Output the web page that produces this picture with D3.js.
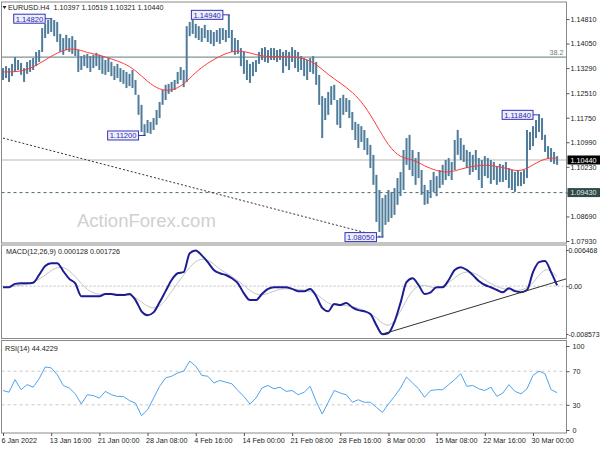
<!DOCTYPE html>
<html><head><meta charset="utf-8">
<script src="https://cdn.jsdelivr.net/npm/d3@7"></script>
<style>body{margin:0;background:#fff}text{font-family:"Liberation Sans",Arial,sans-serif}</style>
</head><body><svg id="c" width="600" height="450"></svg>
<script>
// ---------- DATA ----------
const symbolTitle = "EURUSD.H4  1.10397 1.10519 1.10321 1.10440";
const barStep = 2; // each drawn bar = 2 H4 periods
const priceHigh = [1.1329,1.1335,1.1329,1.1342,1.1363,1.1354,1.1345,1.1329,1.1348,1.1354,
1.1360,1.1379,1.1385,1.1453,1.1466,1.1478,1.1482,1.1478,1.1472,1.1435,
1.1422,1.1432,1.1422,1.1428,1.1416,1.1385,1.1366,1.1370,1.1373,1.1366,
1.1370,1.1376,1.1370,1.1366,1.1354,1.1360,1.1348,1.1335,1.1342,1.1329,
1.1323,1.1317,1.1311,1.1323,1.1292,1.1246,1.1215,1.1155,1.1168,1.1162,
1.1174,1.1199,1.1224,1.1261,1.1277,1.1280,1.1286,1.1292,1.1317,1.1332,
1.1323,1.1459,1.1472,1.1478,1.1466,1.1459,1.1453,1.1463,1.1447,1.1447,
1.1441,1.1447,1.1453,1.1453,1.1447,1.1494,1.1447,1.1422,1.1416,1.1391,
1.1379,1.1354,1.1342,1.1348,1.1354,1.1379,1.1391,1.1394,1.1385,1.1391,
1.1391,1.1385,1.1388,1.1379,1.1385,1.1379,1.1394,1.1385,1.1379,1.1366,
1.1360,1.1354,1.1360,1.1366,1.1348,1.1308,1.1242,1.1236,1.1255,1.1273,
1.1277,1.1230,1.1236,1.1246,1.1236,1.1230,1.1193,1.1162,1.1156,1.1149,
1.1137,1.1112,1.1091,1.1060,1.0998,1.0951,1.0926,1.0936,1.0951,1.0945,
1.0957,1.0988,1.1007,1.1075,1.1112,1.1122,1.1075,1.1050,1.1069,1.1013,
1.0967,1.0951,1.0982,1.1007,1.0994,1.1013,1.1029,1.1044,1.1050,1.1038,
1.1106,1.1137,1.1112,1.1091,1.1075,1.1069,1.1060,1.1075,1.1050,1.1044,
1.1056,1.1050,1.1044,1.1038,1.1025,1.1032,1.1029,1.1038,1.1019,1.1013,
1.1007,1.1013,1.1007,1.1013,1.1137,1.1131,1.1149,1.1168,1.1184,1.1174,
1.1122,1.1087,1.1081,1.1069,1.1056];
const priceLow = [1.1292,1.1298,1.1286,1.1304,1.1317,1.1323,1.1308,1.1286,1.1311,1.1317,
1.1323,1.1335,1.1348,1.1379,1.1422,1.1435,1.1441,1.1428,1.1410,1.1379,
1.1370,1.1385,1.1379,1.1373,1.1366,1.1317,1.1323,1.1335,1.1329,1.1317,
1.1329,1.1335,1.1323,1.1311,1.1308,1.1317,1.1304,1.1292,1.1298,1.1286,
1.1280,1.1267,1.1273,1.1267,1.1246,1.1184,1.1131,1.1120,1.1128,1.1125,
1.1137,1.1153,1.1174,1.1215,1.1230,1.1249,1.1255,1.1261,1.1280,1.1292,
1.1270,1.1286,1.1428,1.1435,1.1422,1.1416,1.1410,1.1422,1.1410,1.1404,
1.1397,1.1410,1.1404,1.1416,1.1410,1.1422,1.1379,1.1370,1.1373,1.1335,
1.1311,1.1292,1.1283,1.1304,1.1317,1.1342,1.1354,1.1348,1.1345,1.1354,
1.1354,1.1348,1.1354,1.1314,1.1335,1.1323,1.1348,1.1329,1.1317,1.1323,
1.1304,1.1292,1.1317,1.1311,1.1277,1.1215,1.1112,1.1168,1.1184,1.1215,
1.1230,1.1153,1.1143,1.1184,1.1193,1.1174,1.1137,1.1106,1.1081,1.1100,
1.1075,1.1060,1.1019,1.0967,1.0852,1.0821,1.0805,1.0843,1.0852,1.0864,
1.0874,1.0905,1.0932,1.0951,1.1029,1.1013,1.0994,1.0967,1.0988,1.0936,
1.0905,1.0908,1.0926,1.0945,1.0932,1.0957,1.0967,1.0982,1.0994,1.0982,
1.1013,1.1060,1.1044,1.1038,1.1019,1.0998,1.1007,1.1013,1.0982,1.0957,
1.0994,1.0988,1.0970,1.0982,1.0967,1.0976,1.0976,1.0982,1.0957,1.0951,
1.0945,1.0963,1.0963,1.0970,1.0988,1.1075,1.1087,1.1112,1.1131,1.1106,
1.1069,1.1050,1.1038,1.1032,1.1029];
const maStep = 8;
const maValues = [1.1317,1.1317,1.1323,1.1342,1.1366,1.1385,1.1391,1.1376,1.1370,1.1357,
1.1345,1.1323,1.1286,1.1261,1.1258,1.1277,1.1317,1.1345,1.1366,1.1382,
1.1382,1.1370,1.1363,1.1366,1.1363,1.1360,1.1342,1.1308,1.1283,1.1255,
1.1215,1.1153,1.1087,1.1050,1.1047,1.1025,1.1010,1.1004,1.1016,1.1025,
1.1029,1.1025,1.1016,1.1007,1.1029,1.1050,1.1050];
const macdStep = 4;
const macdMain = [-0.0002,-0.0002,0.0004,0.0005,0.0005,0.0006,0.0020,0.0036,0.0041,0.0041,
0.0027,0.0013,0.0005,-0.0018,-0.0018,-0.0018,-0.0018,-0.0014,-0.0014,-0.0016,
-0.0016,-0.0014,-0.0025,-0.0045,-0.0052,-0.0047,-0.0029,-0.0009,0.0011,0.0023,
0.0025,0.0059,0.0064,0.0055,0.0043,0.0029,0.0023,0.0020,0.0014,0.0005,
-0.0013,-0.0025,-0.0025,-0.0014,-0.0005,-0.0002,-0.0002,-0.0002,-0.0005,-0.0009,
-0.0009,-0.0005,-0.0018,-0.0039,-0.0045,-0.0032,-0.0034,-0.0030,-0.0038,-0.0043,
-0.0045,-0.0050,-0.0070,-0.0086,-0.0084,-0.0064,-0.0030,0.0007,0.0014,0.0002,
-0.0014,-0.0011,-0.0002,-0.0002,0.0011,0.0029,0.0034,0.0029,0.0020,0.0009,
0.0002,-0.0002,-0.0007,-0.0011,-0.0004,-0.0009,-0.0011,-0.0007,0.0025,0.0043,
0.0045,0.0025,0.000128];
const signalStep = 8;
const macdSignal = [-0.0002,0.0000,0.0003,0.0011,0.0029,0.0038,0.0018,-0.0009,-0.0016,-0.0014,
-0.0014,-0.0018,-0.0039,-0.0041,-0.0009,0.0020,0.0048,0.0050,0.0029,0.0018,
0.0002,-0.0018,-0.0014,-0.0004,-0.0005,-0.0007,-0.0011,-0.0034,-0.0034,-0.0036,
-0.0043,-0.0055,-0.0079,-0.0047,-0.0002,0.0004,-0.0007,0.0005,0.0025,0.0027,
0.0011,-0.0002,-0.0007,-0.0009,0.0002,0.0038,0.001726];
const rsiStep = 4;
const rsiValues = [47,45,60,48,54,51,61,75,74,66,53,50,43,31,42,41,38,46,42,40,
40,35,32,17,24,38,52,62,64,68,70,82,76,65,64,56,59,57,55,47,
40,31,38,50,53,49,51,46,47,42,45,52,34,19,33,47,44,42,33,36,
33,33,27,21,31,40,50,63,56,49,39,47,48,48,54,60,67,52,53,49,
47,51,40,44,54,46,43,49,65,70,67,48,44.42];
const timeLabels = ["6 Jan 2022","13 Jan 16:00","21 Jan 00:00","28 Jan 08:00","4 Feb 16:00","14 Feb 00:00","21 Feb 08:00","28 Feb 16:00","8 Mar 00:00","15 Mar 08:00","22 Mar 16:00","30 Mar 00:00"];
const timeLabelStep = 32;
const priceTicks = [1.14810,1.14050,1.13290,1.12510,1.11750,1.10990,1.10230,1.09430,1.08690,1.07930];
const macdTicks = [0.006468,0,-0.008573];
const macdTickLabels = ["0.006468","0.00","-0.008573"];
const rsiTicks = [100,70,30,0];
const fibLevel = 1.1363, fibText = "38.2";
const bidPrice = 1.10440;
const supportPrice = 1.09430;
const swingLabels = [
  {idx:32, price:1.14820}, {idx:94, price:1.11200}, {idx:150, price:1.14940},
  {idx:252, price:1.08050}, {idx:356, price:1.11840}];
const priceTrend = [{idx:0, v:1.1112},{idx:252, v:1.0805}];
const macdTrend = [{idx:252, v:-0.0086},{idx:374, v:0.0013}];
const macdTitle = "MACD(12,26,9) 0.000128 0.001726";
const rsiTitle = "RSI(14) 44.4229";

// ---------- LAYOUT ----------
const svg = d3.select("#c");
svg.append("rect").attr("width",600).attr("height",450).attr("fill","#fff");
const L = 1.5, R = 566.5;
const P = {main:[2,243], macd:[245,338.5], rsi:[340.5,433]};
const x = d3.scaleLinear().domain([0,352]).range([3,533]);
const yP = d3.scaleLinear().domain([1.0796,1.1540]).range([240,0]);
const yM = d3.scaleLinear().domain([-0.008573,0.006468]).range([334,250]);
const yR = d3.scaleLinear().domain([0,100]).range([430,346]);
const FS = 7.2, TXT = "#222";

const defs = svg.append("defs");
Object.entries(P).forEach(([k,[t,b]])=>{
  defs.append("clipPath").attr("id","clip-"+k).append("rect")
    .attr("x",L).attr("y",t).attr("width",R-L).attr("height",b-t);
});

// ---------- MAIN PANEL ----------
const gm = svg.append("g").attr("clip-path","url(#clip-main)");
gm.append("text").attr("x",77).attr("y",227).attr("font-size",18.5)
  .attr("fill","#d0d0d0").text("ActionForex.com");
gm.append("line").attr("x1",L).attr("x2",R).attr("y1",yP(fibLevel)).attr("y2",yP(fibLevel))
  .attr("stroke","#5f7a7a").attr("stroke-width",1);
gm.append("text").attr("x",R-3).attr("y",yP(fibLevel)-2).attr("text-anchor","end")
  .attr("font-size",FS).attr("fill","#6a7a80").text(fibText);
gm.append("line").attr("x1",L).attr("x2",R).attr("y1",yP(bidPrice)).attr("y2",yP(bidPrice))
  .attr("stroke","#cfcfcf").attr("stroke-width",1.5);
gm.append("line").attr("x1",L).attr("x2",R).attr("y1",yP(supportPrice)).attr("y2",yP(supportPrice))
  .attr("stroke","#4f6b6b").attr("stroke-width",1).attr("stroke-dasharray","3,3");
gm.append("line").attr("x1",x(priceTrend[0].idx)).attr("y1",yP(priceTrend[0].v))
  .attr("x2",x(priceTrend[1].idx)).attr("y2",yP(priceTrend[1].v))
  .attr("stroke","#333").attr("stroke-width",1).attr("stroke-dasharray","2,2");
gm.append("g").selectAll("rect").data(priceHigh).join("rect")
  .attr("x",(d,i)=>x(i*barStep)-1).attr("width",2)
  .attr("y",d=>yP(d)).attr("height",(d,i)=>Math.max(1,yP(priceLow[i])-yP(d)))
  .attr("fill","#4e7c9a");
gm.append("path").datum(maValues)
  .attr("d",d3.line().x((d,i)=>x(i*maStep)).y(d=>yP(d)).curve(d3.curveBasis))
  .attr("fill","none").attr("stroke","#ff3b3b").attr("stroke-width",1);
swingLabels.forEach(s=>{
  const bx = x(s.idx), by = yP(s.price);
  const t = svg.append("text").attr("font-size",7.6).attr("fill","#2b2ba8")
    .text(s.price.toFixed(5));
  const w = t.node().getComputedTextLength();
  const right = bx-6, left = right-w-4;
  svg.insert("rect", () => t.node()).attr("x",left).attr("y",by-4.5).attr("width",w+4).attr("height",9)
    .attr("fill","#eeeeff").attr("stroke","#3434b4").attr("stroke-width",1);
  t.attr("x",left+2).attr("y",by+3);
  svg.append("line").attr("x1",right).attr("x2",bx+1).attr("y1",by).attr("y2",by)
    .attr("stroke","#3434b4").attr("stroke-width",1);
});
svg.append("path").attr("d","M2.5,6 L6.5,6 L4.5,9 Z").attr("fill","#222");
svg.append("text").attr("x",8).attr("y",10).attr("font-size",FS).attr("fill",TXT)
  .attr("xml:space","preserve").style("white-space","pre").text(symbolTitle);

// ---------- MACD PANEL ----------
const gd = svg.append("g").attr("clip-path","url(#clip-macd)");
gd.append("line").attr("x1",L).attr("x2",R).attr("y1",yM(0)).attr("y2",yM(0))
  .attr("stroke","#bbb").attr("stroke-dasharray","2,2");
gd.append("path").datum(macdSignal)
  .attr("d",d3.line().x((d,i)=>x(i*signalStep)).y(d=>yM(d)).curve(d3.curveBasis))
  .attr("fill","none").attr("stroke","#c4c4c4").attr("stroke-width",1);
gd.append("path").datum(macdMain)
  .attr("d",d3.line().x((d,i)=>x(i*macdStep)).y(d=>yM(d)).curve(d3.curveMonotoneX))
  .attr("fill","none").attr("stroke","#1c1c94").attr("stroke-width",2);
gd.append("line").attr("x1",x(macdTrend[0].idx)).attr("y1",yM(macdTrend[0].v))
  .attr("x2",x(macdTrend[1].idx)).attr("y2",yM(macdTrend[1].v))
  .attr("stroke","#333").attr("stroke-width",1);
svg.append("text").attr("x",6).attr("y",254).attr("font-size",FS).attr("fill",TXT).text(macdTitle);

// ---------- RSI PANEL ----------
const gr = svg.append("g").attr("clip-path","url(#clip-rsi)");
[70,30].forEach(v=>gr.append("line").attr("x1",L).attr("x2",R).attr("y1",yR(v)).attr("y2",yR(v))
  .attr("stroke","#c8c8c8").attr("stroke-dasharray","3,3"));
gr.append("path").datum(rsiValues)
  .attr("d",d3.line().x((d,i)=>x(i*rsiStep)).y(d=>yR(d)))
  .attr("fill","none").attr("stroke","#4ea3f0").attr("stroke-width",1);
svg.append("text").attr("x",5).attr("y",351).attr("font-size",FS).attr("fill",TXT).text(rsiTitle);

// ---------- FRAMES ----------
Object.values(P).forEach(([t,b])=>{
  svg.append("rect").attr("x",L).attr("y",t).attr("width",R-L).attr("height",b-t)
    .attr("fill","none").attr("stroke","#8a8a8a").attr("stroke-width",1);
});

// ---------- AXES ----------
function styleAxis(g){
  g.select(".domain").remove();
  g.selectAll("line").attr("stroke","#555");
  g.selectAll("text").attr("font-size",FS).attr("fill",TXT)
   .attr("font-family","'Liberation Sans',Arial,sans-serif");
}
svg.append("g").attr("transform",`translate(${R},0)`)
  .call(d3.axisRight(yP).tickValues(priceTicks).tickFormat(d3.format(".5f")).tickSize(3).tickPadding(1))
  .call(styleAxis);
svg.append("g").attr("transform",`translate(${R},0)`)
  .call(d3.axisRight(yM).tickValues(macdTicks).tickFormat((d,i)=>macdTickLabels[i]).tickSize(2).tickPadding(0))
  .call(styleAxis)
  .call(g=>g.selectAll("text").attr("font-size",6.9));
svg.append("g").attr("transform",`translate(${R},0)`)
  .call(d3.axisRight(yR).tickValues(rsiTicks).tickSize(3).tickPadding(3))
  .call(styleAxis);
svg.append("g").attr("transform",`translate(0,${P.rsi[1]})`)
  .call(d3.axisBottom(x).tickValues(timeLabels.map((d,i)=>i*timeLabelStep))
    .tickFormat((d,i)=>timeLabels[i]).tickSize(3).tickPadding(2))
  .call(styleAxis)
  .call(g=>g.selectAll("text").attr("text-anchor","start").attr("dx",-2));

[[bidPrice,"#000","#fff"],[supportPrice,"#2f4a4a","#e8e8e8"]].forEach(([p,bg,fg])=>{
  svg.append("rect").attr("x",R+1).attr("y",yP(p)-4.5).attr("width",33).attr("height",9).attr("fill",bg);
  svg.append("text").attr("x",R+4).attr("y",yP(p)+2.8).attr("font-size",FS).attr("fill",fg)
    .text(p.toFixed(5));
});
</script></body></html>
